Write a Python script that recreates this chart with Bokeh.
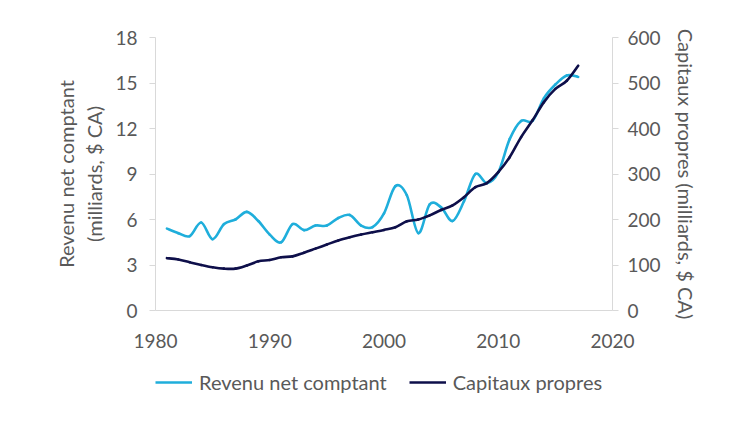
from bokeh.plotting import figure
from bokeh.models import Range1d, LinearAxis, FixedTicker, Legend, LegendItem, ColumnDataSource
from bokeh.layouts import column
from bokeh.embed import file_html
from bokeh.resources import INLINE

years = list(range(1981, 2018))
revenu = [5.4, 5.1, 4.9, 5.8, 4.7, 5.7, 6.0, 6.5, 5.9, 5.0, 4.5, 5.7, 5.3, 5.6, 5.6,
          6.1, 6.3, 5.6, 5.5, 6.4, 8.2, 7.6, 5.1, 7.0, 6.8, 5.9, 7.2, 9.0, 8.4, 9.1,
          11.3, 12.5, 12.5, 14.0, 14.9, 15.5, 15.4]
capitaux = [115, 112, 106, 100, 95, 92, 92, 99, 108, 111, 117, 119, 127, 136, 145,
            154, 161, 167, 172, 177, 183, 196, 200, 209, 221, 231, 249, 271, 280, 304,
            337, 381, 418, 458, 487, 505, 538]
x_ticks = [1980, 1990, 2000, 2010, 2020]
left_ticks = [0, 3, 6, 9, 12, 15, 18]
right_ticks = [0, 100, 200, 300, 400, 500, 600]
series_names = ["Revenu net comptant", "Capitaux propres"]

FONT = "Lato"
GRAY = "#595959"
AXIS = "#D9D9D9"
LIGHT = "#1FAEDB"
DARK = "#0E0F4A"


def smooth_source(xs, ys):
    """Bezier segments through the data points (spreadsheet-style smoothed line)."""
    n = len(xs)
    d = dict(x0=[], y0=[], x1=[], y1=[], cx0=[], cy0=[], cx1=[], cy1=[])
    for i in range(n - 1):
        im = max(i - 1, 0)
        ip2 = min(i + 2, n - 1)
        d["x0"].append(xs[i]); d["y0"].append(ys[i])
        d["x1"].append(xs[i + 1]); d["y1"].append(ys[i + 1])
        d["cx0"].append(xs[i] + (xs[i + 1] - xs[im]) / 6)
        d["cy0"].append(ys[i] + (ys[i + 1] - ys[im]) / 6)
        d["cx1"].append(xs[i + 1] - (xs[ip2] - xs[i]) / 6)
        d["cy1"].append(ys[i + 1] - (ys[ip2] - ys[i]) / 6)
    return ColumnDataSource(d)


p = figure(width=740, height=360, output_backend="svg", toolbar_location=None,
           x_range=Range1d(1980, 2020), y_range=Range1d(0, 18),
           min_border_left=155, min_border_right=128, min_border_top=37, min_border_bottom=50)
p.outline_line_color = None
p.xgrid.visible = False
p.ygrid.visible = False
p.extra_y_ranges = {"right": Range1d(0, 600)}

p.bezier(x0="x0", y0="y0", x1="x1", y1="y1", cx0="cx0", cy0="cy0", cx1="cx1", cy1="cy1",
         source=smooth_source(years, revenu), line_color=LIGHT, line_width=2.6, line_cap="round")
p.bezier(x0="x0", y0="y0", x1="x1", y1="y1", cx0="cx0", cy0="cy0", cx1="cx1", cy1="cy1",
         source=smooth_source(years, capitaux), line_color=DARK, line_width=2.6, line_cap="round",
         y_range_name="right")


def style(ax, tick_size="19px", title_size="20px"):
    ax.axis_line_color = AXIS
    ax.major_tick_line_color = AXIS
    ax.minor_tick_line_color = None
    ax.major_label_text_font = FONT
    ax.major_label_text_font_size = tick_size
    ax.major_label_text_color = GRAY
    ax.axis_label_text_font = FONT
    ax.axis_label_text_font_size = title_size
    ax.axis_label_text_color = GRAY
    ax.axis_label_text_font_style = "normal"


xa = p.xaxis[0]
xa.ticker = FixedTicker(ticks=x_ticks)
style(xa)
xa.major_tick_out = 0
xa.major_tick_in = 0
xa.major_label_standoff = 23

ya = p.yaxis[0]
ya.ticker = FixedTicker(ticks=left_ticks)
style(ya)
ya.major_tick_out = 6
ya.major_tick_in = 0
ya.major_label_standoff = 12
ya.axis_label = "Revenu net comptant\n(milliards, $ CA)"
ya.axis_label_standoff = 6

ra = LinearAxis(y_range_name="right", ticker=FixedTicker(ticks=right_ticks))
style(ra)
ra.major_tick_out = 6
ra.major_tick_in = 0
ra.major_label_standoff = 9
ra.axis_label = "Capitaux propres (milliards, $ CA)"
ra.axis_label_standoff = 10
p.add_layout(ra, "right")

# legend row (its frame is aligned with the main plot's frame by the column layout)
lg = figure(width=740, height=50, output_backend="svg", toolbar_location=None,
            x_range=Range1d(0, 1), y_range=Range1d(0, 1),
            min_border_left=155, min_border_right=128, min_border_top=0, min_border_bottom=0)
lg.outline_line_color = None
lg.axis.visible = False
lg.grid.visible = False
l1 = lg.line(x=[-5, -4], y=[-5, -4], line_color=LIGHT, line_width=2.6)
l2 = lg.line(x=[-5, -4], y=[-5, -4], line_color=DARK, line_width=2.6)
legend = Legend(items=[LegendItem(label=series_names[0], renderers=[l1]),
                       LegendItem(label=series_names[1], renderers=[l2])],
                orientation="horizontal", location=(0, 16),
                label_text_font=FONT, label_text_font_size="20px", label_text_color=GRAY,
                glyph_width=37, glyph_height=24, label_height=24, label_standoff=7, spacing=22,
                border_line_color=None, background_fill_alpha=0, margin=0, padding=0)
lg.add_layout(legend, "center")

open("out.html", "w").write(file_html(column(p, lg), INLINE))
